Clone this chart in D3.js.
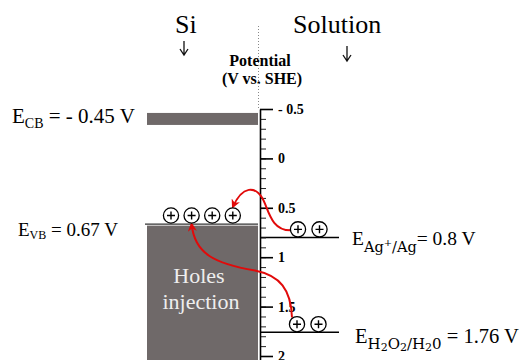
<!DOCTYPE html>
<html>
<head>
<meta charset="utf-8">
<script src="https://cdn.jsdelivr.net/npm/d3@7"></script>
<style>
  html, body { margin: 0; padding: 0; background: #fff; }
  svg { display: block; }
</style>
</head>
<body>
<svg id="chart" width="523" height="360" font-family="Liberation Serif, Times New Roman, serif"></svg>
<script>
// Band-edge potentials of silicon and redox couples in solution (V vs. SHE)
const bandNames = ["CB", "VB"];
const bandValues = [-0.45, 0.67];
const bandValueLabels = ["- 0.45 V", "0.67 V"];

const coupleNames = ["Ag", "H2O2"];
const coupleValues = [0.8, 1.76];
const coupleValueLabels = ["0.8 V", "1.76 V"];

const majorTicks = [-0.5, 0, 0.5, 1, 1.5, 2];
const tickLabels = ["- 0.5", "0", "0.5", "1", "1.5", "2"];

// number of holes drawn at each level: VB surface, Ag couple, H2O2 couple
const holeCounts = [4, 2, 2];

const svg = d3.select("#chart");
const W = 523, H = 360;
const red = "#e10a0a";
const bandFill = "#6f6969";
const serif = "Liberation Serif";

const y = d3.scaleLinear().domain([-0.5, 2]).range([109, 356]);
const axisX = 260;
const bandLeft = 147, bandRight = 258;

// arrowhead marker
svg.append("defs").append("marker")
  .attr("id", "head")
  .attr("viewBox", "0 0 10 10")
  .attr("refX", 8).attr("refY", 5)
  .attr("markerWidth", 9).attr("markerHeight", 9)
  .attr("markerUnits", "userSpaceOnUse")
  .attr("orient", "auto")
  .append("path")
  .attr("d", "M0,0 L10,5 L0,10 L3,5 Z")
  .attr("fill", red);

// headings
svg.append("text").attr("x", 175).attr("y", 33).attr("font-size", 26).text("Si");
svg.append("text").attr("x", 293).attr("y", 33).attr("font-size", 26).text("Solution");

// small down arrows under the headings
function downArrow(cx, y0, y1) {
  svg.append("path")
    .attr("d", `M${cx},${y0}V${y1}M${cx - 4},${y1 - 6}L${cx},${y1}L${cx + 4},${y1 - 6}`)
    .attr("fill", "none").attr("stroke", "#111").attr("stroke-width", 1.3);
}
downArrow(184, 41, 55);
downArrow(347, 46, 61);

svg.append("text").attr("x", 260).attr("y", 66).attr("font-size", 16)
  .attr("font-weight", "bold").attr("text-anchor", "middle").text("Potential");
svg.append("text").attr("x", 262).attr("y", 84).attr("font-size", 16)
  .attr("font-weight", "bold").attr("text-anchor", "middle").text("(V vs. SHE)");

// dotted guide above the axis
svg.append("line")
  .attr("x1", 258.5).attr("x2", 258.5).attr("y1", 26).attr("y2", y(-0.5))
  .attr("stroke", "#888").attr("stroke-width", 1).attr("stroke-dasharray", "1,2");

// conduction band edge
const cbThick = 12;
svg.append("rect")
  .attr("x", bandLeft).attr("y", y(bandValues[0]) - 1)
  .attr("width", bandRight - bandLeft).attr("height", cbThick)
  .attr("fill", bandFill);

// valence band block
svg.append("rect")
  .attr("x", bandLeft).attr("y", y(bandValues[1]) + 1)
  .attr("width", bandRight - bandLeft).attr("height", H - y(bandValues[1]))
  .attr("fill", bandFill);
svg.append("line")
  .attr("x1", bandLeft - 2).attr("x2", bandRight)
  .attr("y1", y(bandValues[1]) - 0.5).attr("y2", y(bandValues[1]) - 0.5)
  .attr("stroke", "#333").attr("stroke-width", 1.2);

svg.append("text").attr("x", 199).attr("y", 283).attr("font-size", 22)
  .attr("fill", "#eeeeee").attr("text-anchor", "middle").text("Holes");
svg.append("text").attr("x", 201).attr("y", 309).attr("font-size", 22)
  .attr("fill", "#eeeeee").attr("text-anchor", "middle").text("injection");

// redox levels in solution
const lineEnd = 339;
coupleValues.forEach(v => {
  svg.append("line")
    .attr("x1", axisX).attr("x2", lineEnd)
    .attr("y1", y(v)).attr("y2", y(v))
    .attr("stroke", "#000").attr("stroke-width", 1.5);
});

// potential axis
const yAxisScale = y.copy().domain([-0.5, 2.05]).range([y(-0.5), y(2.05)]);
const minorTicks = d3.range(-5, 21).map(i => i / 10);
svg.append("g")
  .attr("transform", `translate(${axisX},0)`)
  .call(d3.axisRight(yAxisScale).tickValues(minorTicks).tickSize(6).tickFormat(""))
  .call(g => g.select(".domain").remove())
  .call(g => g.selectAll("line").attr("stroke", "#222").attr("stroke-width", 1));
const axisG = svg.append("g")
  .attr("transform", `translate(${axisX},0)`)
  .call(d3.axisRight(yAxisScale).tickValues(majorTicks).tickSize(13).tickPadding(5)
    .tickSizeOuter(0).tickFormat((d, i) => tickLabels[i]));
axisG.attr("font-family", serif).attr("font-size", 14).attr("font-weight", "bold");
axisG.select(".domain").attr("stroke", "#000").attr("stroke-width", 1.6);
axisG.selectAll(".tick line").attr("stroke", "#000").attr("stroke-width", 1.6);
axisG.selectAll(".tick text").attr("fill", "#000");

// holes (circled plus signs)
const r = 7.6;
function hole(cx, cy) {
  const g = svg.append("g").attr("transform", `translate(${cx},${cy})`);
  g.append("circle").attr("r", r).attr("fill", "#fff")
    .attr("stroke", "#000").attr("stroke-width", 1.3);
  g.append("path").attr("d", `M-4,0H4M0,-4V4`)
    .attr("stroke", "#000").attr("stroke-width", 1.4);
}
const vbHoleY = y(bandValues[1]) - r - 1.5;
const vbHoles = d3.range(holeCounts[0]).map(i => [171 + i * 20.6, vbHoleY]);
const agHoles = d3.range(holeCounts[1]).map(i => [298 + i * 21.5, y(coupleValues[0]) - r - 0.5]);
const h2Holes = d3.range(holeCounts[2]).map(i => [297 + i * 21.5, y(coupleValues[1]) - r - 0.5]);

// hole-transfer arrows
const a0 = [agHoles[0][0] - r, agHoles[0][1] + 1];
const a1 = [vbHoles[3][0], vbHoles[3][1] - r - 1];
svg.append("path")
  .attr("d", `M${a0[0]},${a0[1]} C${a0[0] - 20},${a0[1]} ${a0[0] - 22},${a0[1] - 22} ${a0[0] - 28},${a0[1] - 32}
              C${a0[0] - 35},${a0[1] - 44} ${a1[0] + 10},${a1[1] - 22} ${a1[0]},${a1[1]}`)
  .attr("fill", "none").attr("stroke", red).attr("stroke-width", 2)
  .attr("marker-end", "url(#head)");

const b0 = [h2Holes[0][0] - 5, h2Holes[0][1] - r + 1];
const b1 = [vbHoles[1][0], vbHoles[1][1] + r + 1];
svg.append("path")
  .attr("d", `M${b0[0]},${b0[1]} C${b0[0] - 1},${b0[1] - 28} ${b0[0] - 12},${b0[1] - 42} ${b0[0] - 37},${b0[1] - 47}
              C${b0[0] - 77},${b0[1] - 54} ${b1[0] + 3},${b1[1] + 30} ${b1[0]},${b1[1]}`)
  .attr("fill", "none").attr("stroke", red).attr("stroke-width", 2)
  .attr("marker-end", "url(#head)");

vbHoles.concat(agHoles, h2Holes).forEach(p => hole(p[0], p[1]));

// level labels
const ecb = svg.append("text").attr("x", 12).attr("y", 123).attr("font-size", 21);
ecb.append("tspan").text("E");
ecb.append("tspan").attr("font-size", 14).attr("dy", 5).text(bandNames[0]);
ecb.append("tspan").attr("dy", -5).text(" = " + bandValueLabels[0]);

const evb = svg.append("text").attr("x", 18).attr("y", 236).attr("font-size", 19);
evb.append("tspan").text("E");
evb.append("tspan").attr("font-size", 12).attr("dy", 3).text(bandNames[1]);
evb.append("tspan").attr("dy", -3).text(" = " + bandValueLabels[1]);

const math = "DejaVu Serif";
const eag = svg.append("text").attr("x", 352).attr("y", 245).attr("font-size", 19.5);
eag.append("tspan").text("E");
eag.append("tspan").attr("font-family", math).attr("font-size", 14.5).attr("dy", 7).text(coupleNames[0]);
eag.append("tspan").attr("font-family", math).attr("font-size", 10).attr("dy", -6).text("+");
eag.append("tspan").attr("font-family", math).attr("font-size", 14.5).attr("dy", 6).text("/Ag");
eag.append("tspan").attr("dy", -7).text("= " + coupleValueLabels[0]);

const eh = svg.append("text").attr("x", 355).attr("y", 343).attr("font-size", 20.5);
eh.append("tspan").text("E");
const sub = (t, dy, fs) => eh.append("tspan").attr("font-family", math)
  .attr("font-size", fs).attr("dy", dy).text(t);
sub("H", 6, 15); sub("2", 2, 11); sub("O", -2, 15); sub("2", 2, 11);
sub("/H", -2, 15); sub("2", 2, 11); sub("0", -2, 15);
eh.append("tspan").attr("dy", -6).text(" = " + coupleValueLabels[1]);
</script>
</body>
</html>
